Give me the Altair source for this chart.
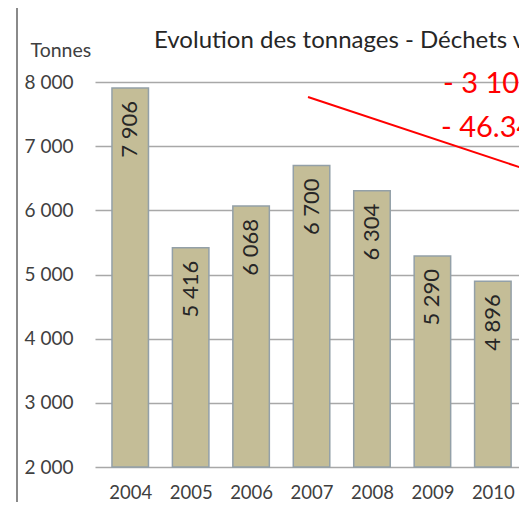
import altair as alt
import pandas as pd

years = [2004, 2005, 2006, 2007, 2008, 2009, 2010]
tonnes = [7906, 5416, 6068, 6700, 6304, 5290, 4896]
y_ticks = [2000, 3000, 4000, 5000, 6000, 7000, 8000]
title_text = "Evolution des tonnages - Déchets verts"
note_abs = "- 3 105"
note_pct = "- 46.34"

labels = [f"{v:,}".replace(",", " ") for v in tonnes]
df = pd.DataFrame({"year": years, "value": tonnes, "label": labels})

FONT = "Lato"

x_enc = alt.X(
    "year:Q",
    scale=alt.Scale(domain=[2003.5, 2010.35], nice=False, zero=False),
    axis=alt.Axis(
        values=years, format="d", grid=False, ticks=False, tickSize=0, domain=False,
        labelFont=FONT, labelFontSize=18.5, labelColor="#404040",
        labelPadding=16, labelFlush=False, labelOverlap=False, title=None,
    ),
)
y_enc = alt.Y(
    "value:Q",
    scale=alt.Scale(domain=[2000, 8000], nice=False, zero=False),
    axis=alt.Axis(
        values=y_ticks, grid=True, gridColor="#a8a8a8", gridWidth=1.5,
        ticks=False, tickSize=0, domain=False,
        labelFont=FONT, labelFontSize=19, labelColor="#404040", labelPadding=22,
        labelExpr="replace(format(datum.value, ','), ',', ' ')",
        title="Tonnes", titleAngle=0, titleAlign="left", titleBaseline="alphabetic",
        titleX=-65, titleY=-26, titleFont=FONT, titleFontSize=19.5,
        titleFontWeight="normal", titleColor="#404040",
    ),
)

base = alt.Chart(df)
bars = base.mark_bar(size=36.5, color="#C4BD97", stroke="#93A0A8", strokeWidth=1.5).encode(
    x=x_enc, y=y_enc, y2=alt.datum(2000)
)
bar_text = base.mark_text(
    angle=270, align="right", baseline="middle", dx=-13,
    font=FONT, fontSize=22, color="#262626",
).encode(x=alt.X("year:Q"), y=alt.Y("value:Q"), text="label:N")

one = pd.DataFrame({"t": [0]})

title = alt.Chart(pd.DataFrame({"t": [title_text]})).mark_text(
    align="left", baseline="alphabetic", font=FONT, fontSize=24, color="#262626"
).encode(text="t:N", x=alt.value(59), y=alt.value(-34))

red1 = alt.Chart(pd.DataFrame({"t": [note_abs]})).mark_text(
    align="left", baseline="alphabetic", font=FONT, fontSize=29, color="#FF0000"
).encode(text="t:N", x=alt.value(348), y=alt.value(11))

red2 = alt.Chart(pd.DataFrame({"t": [note_pct]})).mark_text(
    align="left", baseline="alphabetic", font=FONT, fontSize=29, color="#FF0000"
).encode(text="t:N", x=alt.value(346), y=alt.value(55))

red_line = alt.Chart(one).mark_rule(color="#FF0000", strokeWidth=2).encode(
    x=alt.value(213), y=alt.value(15), x2=alt.value(445), y2=alt.value(92)
)

frame_left = alt.Chart(one).mark_rule(color="#8a8a8a", strokeWidth=2).encode(
    x=alt.value(-78), x2=alt.value(-78), y=alt.value(-77), y2=alt.value(500)
)
frame_top = alt.Chart(one).mark_rule(color="#8a8a8a", strokeWidth=2).encode(
    x=alt.value(-79), x2=alt.value(500), y=alt.value(-77), y2=alt.value(-77)
)

chart = alt.layer(
    bars, bar_text, red_line, title, red1, red2, frame_left, frame_top
).properties(
    width=424,
    height=385,
    autosize=alt.AutoSizeParams(type="none"),
    padding={"left": 87, "top": 74, "right": 0, "bottom": 35},
    background="white",
).configure_view(strokeOpacity=0)

chart.save("out.html", embed_options={"renderer": "svg", "actions": False})
